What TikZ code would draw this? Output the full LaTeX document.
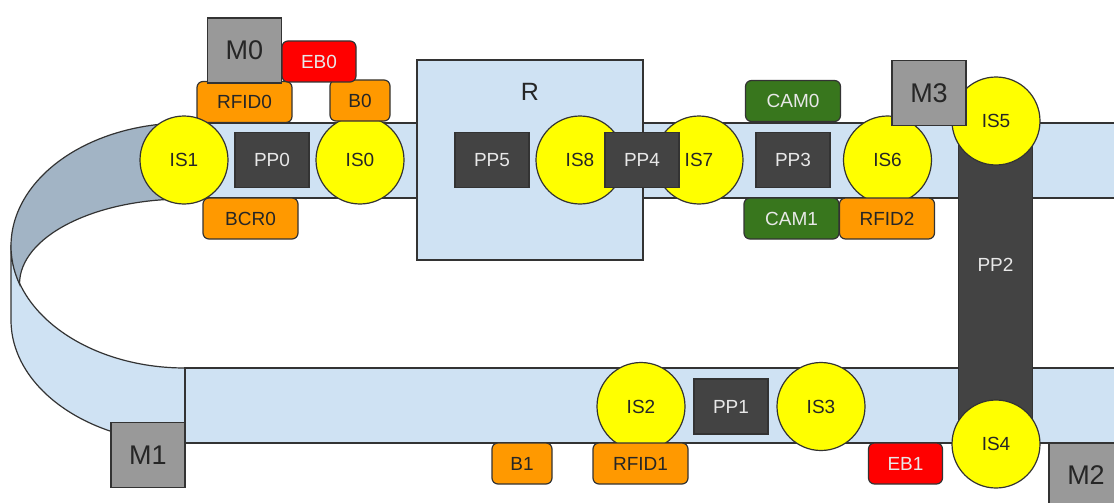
\documentclass[tikz,border=0pt]{standalone}
\usepackage{fontspec}
\setmainfont{Liberation Sans}
\usetikzlibrary{positioning}

\definecolor{beltblue}{HTML}{CFE2F3}
\definecolor{beltshade}{HTML}{A2B4C5}
\definecolor{edgegrey}{HTML}{333333}
\definecolor{platedark}{HTML}{434343}
\definecolor{magazine}{HTML}{999999}
\definecolor{tagorange}{HTML}{FF9900}
\definecolor{camgreen}{HTML}{38761D}
\definecolor{rollyellow}{HTML}{FFFF00}
\definecolor{stopred}{HTML}{FF0000}
\definecolor{palewhite}{HTML}{E8E8E8}

\tikzset{
  every node/.style={inner sep=0pt, outer sep=0pt, font=\fontsize{19}{21}\selectfont, text=black!85},
  outline/.style={draw=edgegrey, line width=1.2pt},
  belt/.style={outline, fill=beltblue},
  roller/.style={outline, circle, fill=rollyellow, minimum size=88pt},
  plate/.style={outline, rectangle, fill=platedark, text=palewhite, minimum width=74pt, minimum height=55pt},
  magbox/.style={outline, rectangle, fill=magazine, minimum width=74pt, minimum height=65pt, font=\fontsize{27}{29}\selectfont},
  tag/.style={outline, rectangle, rounded corners=6pt, minimum height=41pt, minimum width=95pt},
  rfid/.style={tag, fill=tagorange},
  stopbtn/.style={tag, fill=stopred, text=palewhite, minimum width=74pt},
  cam/.style={tag, fill=camgreen, text=palewhite}
}

\begin{document}
\begin{tikzpicture}[x=1pt,y=-1pt]
  \useasboundingbox (0,0) rectangle (1114,503);

  % belts
  \draw[belt] (185,368) arc[start angle=270, end angle=180, x radius=174pt, y radius=123pt]
    -- (11,320) arc[start angle=180, end angle=270, x radius=174pt, y radius=123pt] -- cycle;
  \draw[outline, fill=beltshade] (185,123) arc[start angle=90, end angle=198, x radius=174pt, y radius=123pt]
    arc[start angle=180, end angle=90, x radius=165pt, y radius=85pt] -- cycle;
  \draw[belt] (184,123) rectangle (1118,198);
  \draw[belt] (185,368) rectangle (1118,443);

  % robot cell
  \node[belt, rectangle, minimum width=226pt, minimum height=200pt] (Cell) at (530,160) {};
  \node[font=\fontsize{25}{27}\selectfont] (CellName) at (530,92) {R};

  % upper line
  \node[rfid]               (RFID0) at (244.5,102) {RFID0};
  \node[rfid]               (BCR0)  at (250.5,218.5) {BCR0};
  \node[roller]             (IS1)   at (184,160) {IS1};
  \node[plate]              (PP0)   at (272,160) {PP0};
  \node[roller]             (IS0)   at (360,160) {IS0};
  \node[magbox]             (M0)    at (244.5,50.5) {M0};
  \node[rfid, minimum width=60pt] (B0) [above=-5pt of IS0] {B0};
  \node[stopbtn]            (EB0)   at (319,61.5) {EB0};

  \node[plate]              (PP5)   at (492,160) {PP5};
  \node[roller]             (IS8)   at (580,160) {IS8};
  \node[roller]             (IS7)   at (699,160) {IS7};
  \node[plate]              (PP4)   at (642,160) {PP4};
  \node[plate]              (PP3)   at (793,160) {PP3};
  \node[cam]                (CAM0)  [above=11pt of PP3] {CAM0};
  \node[cam]                (CAM1)  at (791.5,218.5) {CAM1};
  \node[roller]             (IS6)   at (887.5,160) {IS6};
  \node[rfid]               (RFID2) at (887,218.5) {RFID2};

  % transfer between the lines
  \node[plate, minimum height=322pt] (PP2) at (995.5,281) {};
  \node[text=palewhite]     (PP2Name) at (995.5,265) {PP2};
  \node[roller]             (IS5)   at (996,121) {IS5};
  \node[roller]             (IS4)   at (996,444) {IS4};
  \node[magbox]             (M3)    at (929,93) {M3};

  % lower line
  \node[roller]             (IS2)   at (641,406.5) {IS2};
  \node[plate]              (PP1)   at (731,406.5) {PP1};
  \node[roller]             (IS3)   at (821,406.5) {IS3};
  \node[rfid]               (RFID1) at (640.5,463.5) {RFID1};
  \node[rfid, minimum width=60pt] (B1) at (522,463.5) {B1};
  \node[stopbtn]            (EB1)   at (905.5,463.5) {EB1};
  \node[magbox]             (M1)    at (148,455) {M1};
  \node[magbox]             (M2)    at (1086,475.5) {M2};
\end{tikzpicture}
\end{document}
